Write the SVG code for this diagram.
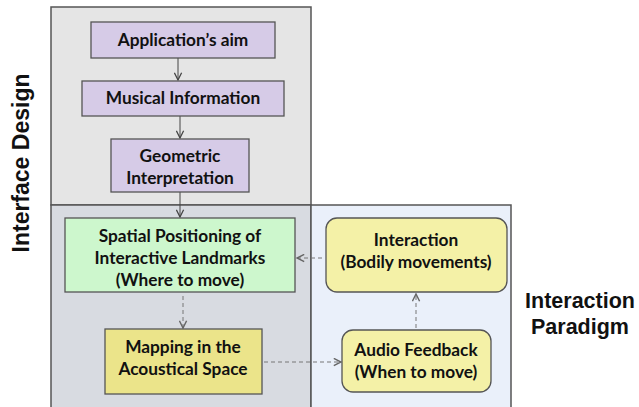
<svg xmlns="http://www.w3.org/2000/svg" width="639" height="407" viewBox="0 0 639 407">
  <defs>
    <style>
      .panel { stroke: #555; stroke-width: 1.5; }
      .box { stroke: #555; stroke-width: 1.3; }
      .purple { fill: #d6cbe7; }
      .green { fill: #cdf7cd; }
      .yellowA { fill: #ebe48a; }
      .yellowB { fill: #f4f1a7; }
      .lbl { font-family: Lato, "Open Sans", "Liberation Sans", sans-serif; font-weight: bold; font-size: 17.3px; fill: #111; text-anchor: middle; }
      .side { font-family: "Liberation Sans", Arial, sans-serif; font-weight: bold; font-size: 21.5px; fill: #111; text-anchor: middle; }
      .solid { stroke: #444; stroke-width: 1; fill: none; }
      .dash { stroke: #777; stroke-width: 1; fill: none; stroke-dasharray: 4 3; }
    </style>
    <marker id="headSolid" viewBox="0 0 10 10" refX="9" refY="5" markerWidth="9" markerHeight="9" markerUnits="userSpaceOnUse" orient="auto">
      <path d="M1,1 L9,5 L1,9" fill="none" stroke="#444" stroke-width="1.4"/>
    </marker>
    <marker id="headDash" viewBox="0 0 10 10" refX="9" refY="5" markerWidth="9" markerHeight="9" markerUnits="userSpaceOnUse" orient="auto">
      <path d="M1,1 L9,5 L1,9" fill="none" stroke="#666" stroke-width="1.6"/>
    </marker>
  </defs>

  <rect width="639" height="407" fill="#ffffff"/>

  <!-- background regions -->
  <g id="panels">
    <rect class="panel" x="51" y="7" width="260" height="198" fill="#e5e5e5"/>
    <rect class="panel" x="51" y="205" width="260" height="205" fill="#d8dbe1"/>
    <rect class="panel" x="311" y="205" width="200" height="205" fill="#eaf0fa"/>
  </g>

  <!-- region titles -->
  <text class="side" style="font-size:23px" transform="translate(29,163) rotate(-90)">Interface Design</text>
  <text class="side" x="580" y="308">Interaction</text>
  <text class="side" x="580" y="334">Paradigm</text>

  <!-- connectors -->
  <g id="connectors">
    <line class="solid" x1="178" y1="58" x2="178" y2="80" marker-end="url(#headSolid)"/>
    <line class="solid" x1="180" y1="116" x2="180" y2="138" marker-end="url(#headSolid)"/>
    <line class="solid" x1="180" y1="192" x2="180" y2="217" marker-end="url(#headSolid)"/>
    <line class="dash" x1="183" y1="296" x2="183" y2="328" marker-end="url(#headDash)"/>
    <line class="dash" x1="322" y1="258" x2="297" y2="258" marker-end="url(#headDash)"/>
    <line class="dash" x1="264" y1="362" x2="341" y2="362" marker-end="url(#headDash)"/>
    <line class="dash" x1="416" y1="328" x2="416" y2="294" marker-end="url(#headDash)"/>
  </g>

  <g id="aim">
    <rect class="box purple" x="91" y="22" width="184" height="36"/>
    <text class="lbl" x="183" y="46">Application’s aim</text>
  </g>

  <g id="musical">
    <rect class="box purple" x="82" y="81" width="202" height="35"/>
    <text class="lbl" x="183" y="104">Musical Information</text>
  </g>

  <g id="geometric">
    <rect class="box purple" x="111" y="139" width="138" height="53"/>
    <text class="lbl" x="180" y="162">Geometric</text>
    <text class="lbl" x="180" y="184">Interpretation</text>
  </g>

  <g id="spatial">
    <rect class="box green" x="65" y="218" width="230" height="74"/>
    <text class="lbl" x="180" y="242">Spatial Positioning of</text>
    <text class="lbl" x="180" y="264">Interactive Landmarks</text>
    <text class="lbl" x="180" y="286">(Where to move)</text>
  </g>

  <g id="mapping">
    <rect class="box yellowA" x="105" y="329" width="157" height="65"/>
    <text class="lbl" x="183" y="353">Mapping in the</text>
    <text class="lbl" x="183" y="375">Acoustical Space</text>
  </g>

  <g id="interaction">
    <rect class="box yellowB" x="326" y="218" width="181" height="74" rx="11" ry="11"/>
    <text class="lbl" x="416" y="246">Interaction</text>
    <text class="lbl" x="416" y="268">(Bodily movements)</text>
  </g>

  <g id="audio">
    <rect class="box yellowB" x="342" y="330" width="149" height="62" rx="11" ry="11"/>
    <text class="lbl" x="416" y="356">Audio Feedback</text>
    <text class="lbl" x="416" y="378">(When to move)</text>
  </g>
</svg>
